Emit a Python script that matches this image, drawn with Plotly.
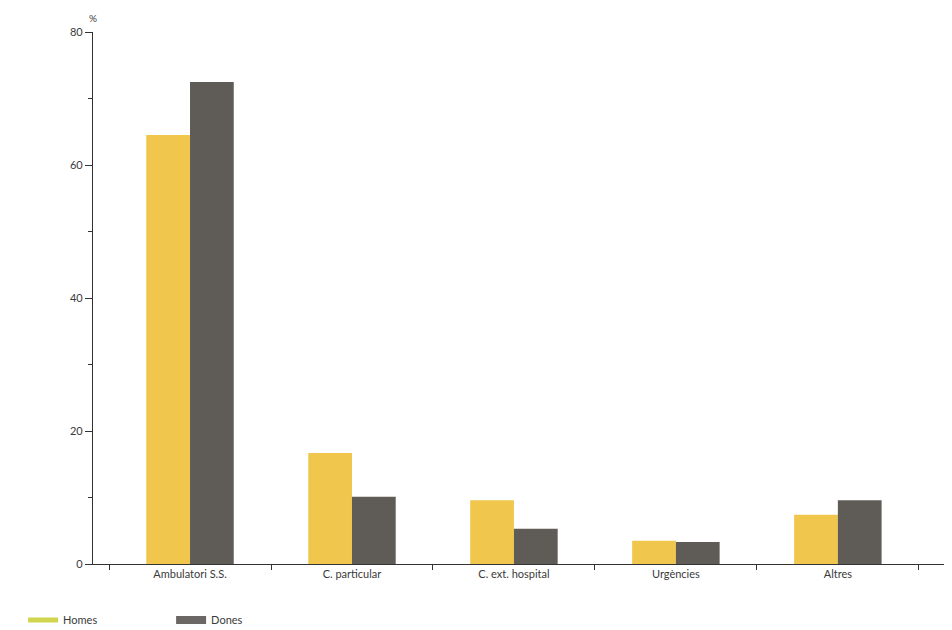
import plotly.graph_objects as go

categories = ["Ambulatori S.S.", "C. particular", "C. ext. hospital", "Urgències", "Altres"]
homes = [64.5, 16.7, 9.6, 3.5, 7.4]
dones = [72.5, 10.1, 5.3, 3.3, 9.6]

fig = go.Figure()
fig.add_trace(go.Bar(x=categories, y=homes, name="Homes", marker_color="#F1C64C",
                     marker_line_width=0, showlegend=False))
fig.add_trace(go.Bar(x=categories, y=dones, name="Dones", marker_color="#5F5B57",
                     marker_line_width=0, showlegend=False))
# legend entries drawn as wide swatches like the original
fig.add_trace(go.Scatter(x=[None], y=[None], mode="lines", name="Homes",
                         line=dict(color="#CFD54E", width=5)))
fig.add_trace(go.Scatter(x=[None], y=[None], mode="lines", name="Dones",
                         line=dict(color="#6A6764", width=8)))

# page body adds an 8px offset, so the figure is sized to fit the window
fig.update_layout(
    width=944,
    height=622,
    barmode="group",
    bargap=0.46,
    bargroupgap=0,
    paper_bgcolor="white",
    plot_bgcolor="white",
    margin=dict(l=85, r=4, t=24, b=66, autoexpand=False),
    font=dict(family="Lato, Noto Sans, sans-serif", size=11, color="#3a3a3a"),
    legend=dict(orientation="h", xref="container", x=0.016, xanchor="left",
                yref="container", y=0.016, yanchor="middle",
                font=dict(size=11), entrywidth=103, traceorder="normal",
                itemclick=False, tracegroupgap=0),
    annotations=[dict(text="%", x=0, xref="paper", y=1, yref="paper", xanchor="center",
                      yanchor="bottom", yshift=6, showarrow=False, font=dict(size=10))],
)
fig.update_xaxes(range=[-0.599, 4.68], showline=True, linecolor="#333", linewidth=1.2,
                 ticks="outside", tickson="boundaries", ticklen=5, tickcolor="#333",
                 showgrid=False)
fig.update_yaxes(range=[0, 80], dtick=20, showline=True, linecolor="#333", linewidth=1.2,
                 ticks="outside", ticklen=7, tickcolor="#333", showgrid=False, zeroline=False,
                 minor=dict(dtick=10, ticks="outside", ticklen=4, tickcolor="#333"))

fig.write_html("out.html")
